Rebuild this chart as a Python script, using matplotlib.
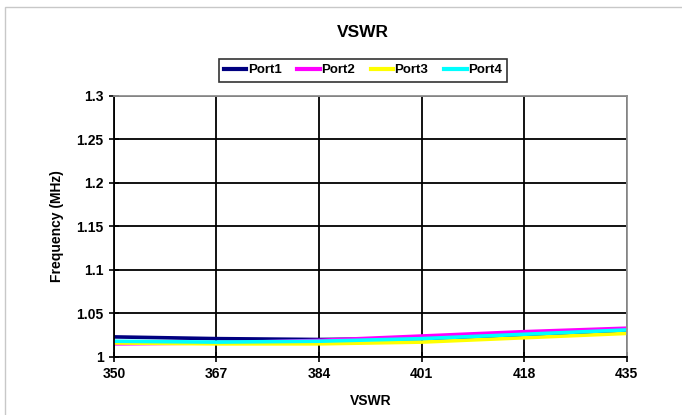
import matplotlib
matplotlib.use("Agg")
import matplotlib.pyplot as plt
from matplotlib.patches import Rectangle

plt.rcParams['font.family'] = ['Liberation Sans', 'DejaVu Sans']
plt.rcParams['font.weight'] = 'bold'

# data
vswr = [350, 367, 384, 401, 418, 435]
port1 = [1.023, 1.021, 1.020, 1.021, 1.025, 1.030]
port2 = [1.015, 1.016, 1.019, 1.024, 1.029, 1.033]
port3 = [1.016, 1.015, 1.015, 1.017, 1.022, 1.027]
port4 = [1.018, 1.017, 1.018, 1.021, 1.026, 1.031]
names = ['Port1', 'Port2', 'Port3', 'Port4']
colors = ['#000080', '#ff00ff', '#ffff00', '#00ffff']
yticks = [1, 1.05, 1.1, 1.15, 1.2, 1.25, 1.3]

fig = plt.figure(figsize=(6.82, 4.15), dpi=100)
ax = fig.add_axes([0.167, 0.140, 0.752, 0.629])

for vals, name, c in zip([port1, port2, port3, port4], names, colors):
    ax.plot(vswr, vals, color=c, lw=2.6, label=name)

ax.set_xlim(350, 435)
ax.set_ylim(1, 1.3)
ax.set_xticks(vswr)
ax.set_xticklabels([str(v) for v in vswr])
ax.set_yticks(yticks)
ax.set_yticklabels(['1', '1.05', '1.1', '1.15', '1.2', '1.25', '1.3'])
ax.grid(True, color='black', lw=1.3)
ax.tick_params(direction='inout', length=7, width=1.2, labelsize=10, pad=4)
for lbl in ax.get_xticklabels() + ax.get_yticklabels():
    lbl.set_fontweight('bold')
for s in ['left', 'bottom']:
    ax.spines[s].set_color('black')
    ax.spines[s].set_linewidth(1.3)
for s in ['top', 'right']:
    ax.spines[s].set_color('#909090')
    ax.spines[s].set_linewidth(1.3)

ax.set_xlabel('VSWR', fontsize=10, fontweight='bold', labelpad=9)
ax.set_ylabel('Frequency (MHz)', fontsize=10, fontweight='bold', labelpad=9)
fig.text(0.532, 0.922, 'VSWR', ha='center', va='center', fontsize=12.5, fontweight='bold')

leg = fig.legend(loc='center', bbox_to_anchor=(0.532, 0.831), ncol=4, fontsize=9.5,
                 frameon=True, fancybox=False, edgecolor='black', handlelength=1.7,
                 handletextpad=0.1, columnspacing=1.2, borderpad=0.4)
leg.get_frame().set_linewidth(1.2)
for t in leg.get_texts():
    t.set_fontweight('bold')
for h in leg.get_lines():
    h.set_linewidth(3.0)

fig.patches.append(Rectangle((0.008, -0.05), 1.1, 1.033, transform=fig.transFigure,
                             fill=False, edgecolor='#c8c8c8', lw=1.0))

fig.savefig('out.png', dpi=100)
